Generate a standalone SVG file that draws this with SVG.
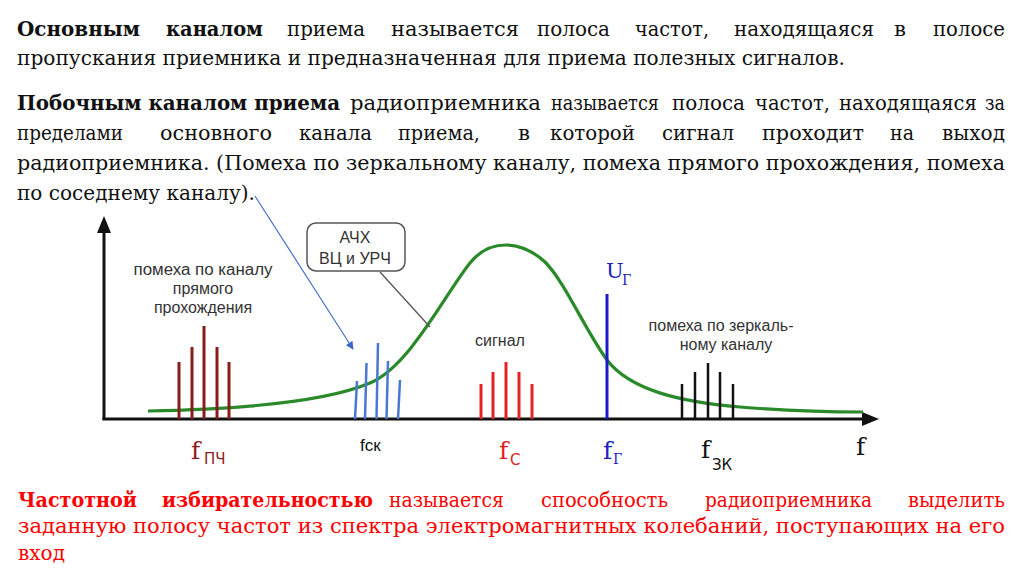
<svg xmlns="http://www.w3.org/2000/svg" width="1024" height="574" viewBox="0 0 1024 574">
<style>
.t{font-family:"DejaVu Serif","Liberation Serif",serif;font-size:21px;fill:#111}
.b{font-weight:bold}
.r{fill:#f00}
.s{font-family:"Liberation Sans",Arial,sans-serif;font-size:16px;fill:#333;text-anchor:middle}
.fl{font-family:"DejaVu Serif","Liberation Serif",serif;font-size:25px}
.u{font-family:"DejaVu Serif","Liberation Serif",serif;font-size:21px}
.g{font-family:"DejaVu Serif","Liberation Serif",serif;font-size:14px}
.sub{font-family:"DejaVu Sans","Liberation Sans",sans-serif;font-size:15px}
.dr{stroke:#861c1c;stroke-width:3}
.bl{stroke:#4a78d0;stroke-width:2.5}
.rd{stroke:#e52222;stroke-width:3}
.bk{stroke:#111;stroke-width:2.5}
</style>
<defs>
<marker id="ah" viewBox="0 0 10 10" refX="9" refY="5" markerWidth="8" markerHeight="8" orient="auto" markerUnits="userSpaceOnUse">
<path d="M0,0 L10,5 L0,10 z" fill="#3a66c4"/>
</marker>
</defs>
<rect width="1024" height="574" fill="#fff"/>

<g id="text-top">
<text class="t b" x="17" y="36" textLength="123" lengthAdjust="spacingAndGlyphs">Основным</text>
<text class="t b" x="166" y="36" textLength="97" lengthAdjust="spacingAndGlyphs">каналом</text>
<text class="t" x="287" y="36" textLength="78" lengthAdjust="spacingAndGlyphs">приема</text>
<text class="t" x="391" y="36" textLength="128" lengthAdjust="spacingAndGlyphs">называется</text>
<text class="t" x="537" y="36" textLength="73" lengthAdjust="spacingAndGlyphs">полоса</text>
<text class="t" x="635" y="36" textLength="74" lengthAdjust="spacingAndGlyphs">частот,</text>
<text class="t" x="734" y="36" textLength="140" lengthAdjust="spacingAndGlyphs">находящаяся</text>
<text class="t" x="894" y="36" textLength="12" lengthAdjust="spacingAndGlyphs">в</text>
<text class="t" x="933" y="36" textLength="72" lengthAdjust="spacingAndGlyphs">полосе</text>
<text class="t" x="17" y="65" textLength="828" lengthAdjust="spacingAndGlyphs">пропускания приемника и предназначенная для приема полезных сигналов.</text>
<text class="t b" x="17" y="110" textLength="323" lengthAdjust="spacingAndGlyphs">Побочным каналом приема</text>
<text class="t" x="350" y="110" textLength="191" lengthAdjust="spacingAndGlyphs">радиоприемника</text>
<text class="t" x="551" y="110" textLength="108" lengthAdjust="spacingAndGlyphs">называется</text>
<text class="t" x="672" y="110" textLength="73" lengthAdjust="spacingAndGlyphs">полоса</text>
<text class="t" x="755" y="110" textLength="75" lengthAdjust="spacingAndGlyphs">частот,</text>
<text class="t" x="839" y="110" textLength="138" lengthAdjust="spacingAndGlyphs">находящаяся</text>
<text class="t" x="985" y="110" textLength="20" lengthAdjust="spacingAndGlyphs">за</text>
<text class="t" x="17" y="140" textLength="106" lengthAdjust="spacingAndGlyphs">пределами</text>
<text class="t" x="160" y="140" textLength="112" lengthAdjust="spacingAndGlyphs">основного</text>
<text class="t" x="299" y="140" textLength="73" lengthAdjust="spacingAndGlyphs">канала</text>
<text class="t" x="398" y="140" textLength="82" lengthAdjust="spacingAndGlyphs">приема,</text>
<text class="t" x="518" y="140" textLength="12" lengthAdjust="spacingAndGlyphs">в</text>
<text class="t" x="550" y="140" textLength="85" lengthAdjust="spacingAndGlyphs">которой</text>
<text class="t" x="662" y="140" textLength="72" lengthAdjust="spacingAndGlyphs">сигнал</text>
<text class="t" x="762" y="140" textLength="102" lengthAdjust="spacingAndGlyphs">проходит</text>
<text class="t" x="890" y="140" textLength="24" lengthAdjust="spacingAndGlyphs">на</text>
<text class="t" x="942" y="140" textLength="63" lengthAdjust="spacingAndGlyphs">выход</text>
<text class="t" x="17" y="170" textLength="988" lengthAdjust="spacingAndGlyphs">радиоприемника. (Помеха по зеркальному каналу, помеха прямого прохождения, помеха</text>
<text class="t" x="17" y="200" textLength="238" lengthAdjust="spacingAndGlyphs">по соседнему каналу).</text>
</g>

<g id="axes">
<line x1="104" y1="230" x2="104" y2="420" stroke="#111" stroke-width="3"/>
<path d="M104,216 L97,233 L111,233 z" fill="#111"/>
<line x1="102.5" y1="419" x2="864" y2="419" stroke="#111" stroke-width="3"/>
<path d="M879,419 L862,412 L862,426 z" fill="#111"/>
</g>

<g id="curve">
<path d="M148,411 C250,409 330,400 370,383 C410,366 445,294 470,263 C482,248 495,245 506,245 C520,245 533,251 545,262 C565,282 585,330 607,360 C630,390 680,402 740,407 C790,411 830,412 863,412" fill="none" stroke="#2a8a2a" stroke-width="3.2"/>
</g>

<g id="spectrum-pch">
<line class="dr" x1="179" y1="419" x2="179" y2="362"/>
<line class="dr" x1="192" y1="419" x2="192" y2="347"/>
<line class="dr" x1="204" y1="419" x2="204" y2="326"/>
<line class="dr" x1="217" y1="419" x2="217" y2="347"/>
<line class="dr" x1="229" y1="419" x2="229" y2="362"/>
<text class="s" x="203" y="275" textLength="139" lengthAdjust="spacingAndGlyphs">помеха по каналу</text>
<text class="s" x="203" y="294">прямого</text>
<text class="s" x="203" y="313">прохождения</text>
<text class="fl" x="191" y="459" fill="#8b1c1c">f</text>
<text class="sub" x="204" y="464" fill="#8b1c1c">ПЧ</text>
</g>

<g id="spectrum-sk">
<line class="bl" x1="355" y1="419" x2="357" y2="381"/>
<line class="bl" x1="365" y1="419" x2="366.5" y2="363"/>
<line class="bl" x1="376.5" y1="419" x2="378" y2="343"/>
<line class="bl" x1="386.5" y1="419" x2="388" y2="361"/>
<line class="bl" x1="398" y1="419" x2="400" y2="380"/>
<text x="360" y="451" style="font-family:'Liberation Sans',Arial,sans-serif;font-size:17px;fill:#111">fск</text>
</g>

<g id="box-achx">
<rect x="307" y="223" width="98" height="48" rx="9" fill="#fff" stroke="#555" stroke-width="1.5"/>
<text class="s" x="355" y="243">АЧХ</text>
<text class="s" x="355" y="264">ВЦ и УРЧ</text>
</g>

<g id="spectrum-c">
<line class="rd" x1="481" y1="419" x2="481" y2="384"/>
<line class="rd" x1="493" y1="419" x2="493" y2="372"/>
<line class="rd" x1="506" y1="419" x2="506" y2="362"/>
<line class="rd" x1="519" y1="419" x2="519" y2="372"/>
<line class="rd" x1="532" y1="419" x2="532" y2="384"/>
<text class="s" x="500" y="346">сигнал</text>
<text class="fl" x="499" y="459" fill="#e02020">f</text>
<text class="sub" x="510" y="465" fill="#e02020">С</text>
</g>

<g id="heterodyne">
<line x1="607" y1="294" x2="607" y2="419" stroke="#1a1acc" stroke-width="3"/>
<text class="u" x="606" y="278" fill="#2020c0">U</text>
<text class="g" x="622" y="285" fill="#2020c0">Г</text>
<text class="fl" x="603" y="459" fill="#2020c0">f</text>
<text class="g" x="613" y="464" fill="#2020c0">Г</text>
</g>

<g id="spectrum-zk">
<line class="bk" x1="682" y1="419" x2="682" y2="384"/>
<line class="bk" x1="695" y1="419" x2="695" y2="372"/>
<line class="bk" x1="708" y1="419" x2="708" y2="363"/>
<line class="bk" x1="720" y1="419" x2="720" y2="372"/>
<line class="bk" x1="733" y1="419" x2="733" y2="384"/>
<text class="s" x="721" y="331" textLength="145" lengthAdjust="spacingAndGlyphs">помеха по зеркаль-</text>
<text class="s" x="726" y="350">ному каналу</text>
<text class="fl" x="701" y="458" fill="#111">f</text>
<text class="sub" x="712" y="470" fill="#111">ЗК</text>
<text class="fl" x="856" y="455" fill="#111">f</text>
</g>

<g id="connectors">
<line x1="380" y1="272" x2="430" y2="327" stroke="#555" stroke-width="1.3"/>
<line x1="255" y1="196" x2="353" y2="349" stroke="#3a66c4" stroke-width="1.1" marker-end="url(#ah)"/>
</g>

<g id="text-bottom">
<text class="t b r" x="18" y="507" textLength="119" lengthAdjust="spacingAndGlyphs">Частотной</text>
<text class="t b r" x="162" y="507" textLength="211" lengthAdjust="spacingAndGlyphs">избирательностью</text>
<text class="t r" x="389" y="507" textLength="115" lengthAdjust="spacingAndGlyphs">называется</text>
<text class="t r" x="541" y="507" textLength="127" lengthAdjust="spacingAndGlyphs">способность</text>
<text class="t r" x="705" y="507" textLength="167" lengthAdjust="spacingAndGlyphs">радиоприемника</text>
<text class="t r" x="908" y="507" textLength="97" lengthAdjust="spacingAndGlyphs">выделить</text>
<text class="t r" x="18" y="533" textLength="987" lengthAdjust="spacingAndGlyphs">заданную полосу частот из спектра электромагнитных колебаний, поступающих на его</text>
<text class="t r" x="18" y="560" textLength="47" lengthAdjust="spacingAndGlyphs">вход</text>
</g>
</svg>
